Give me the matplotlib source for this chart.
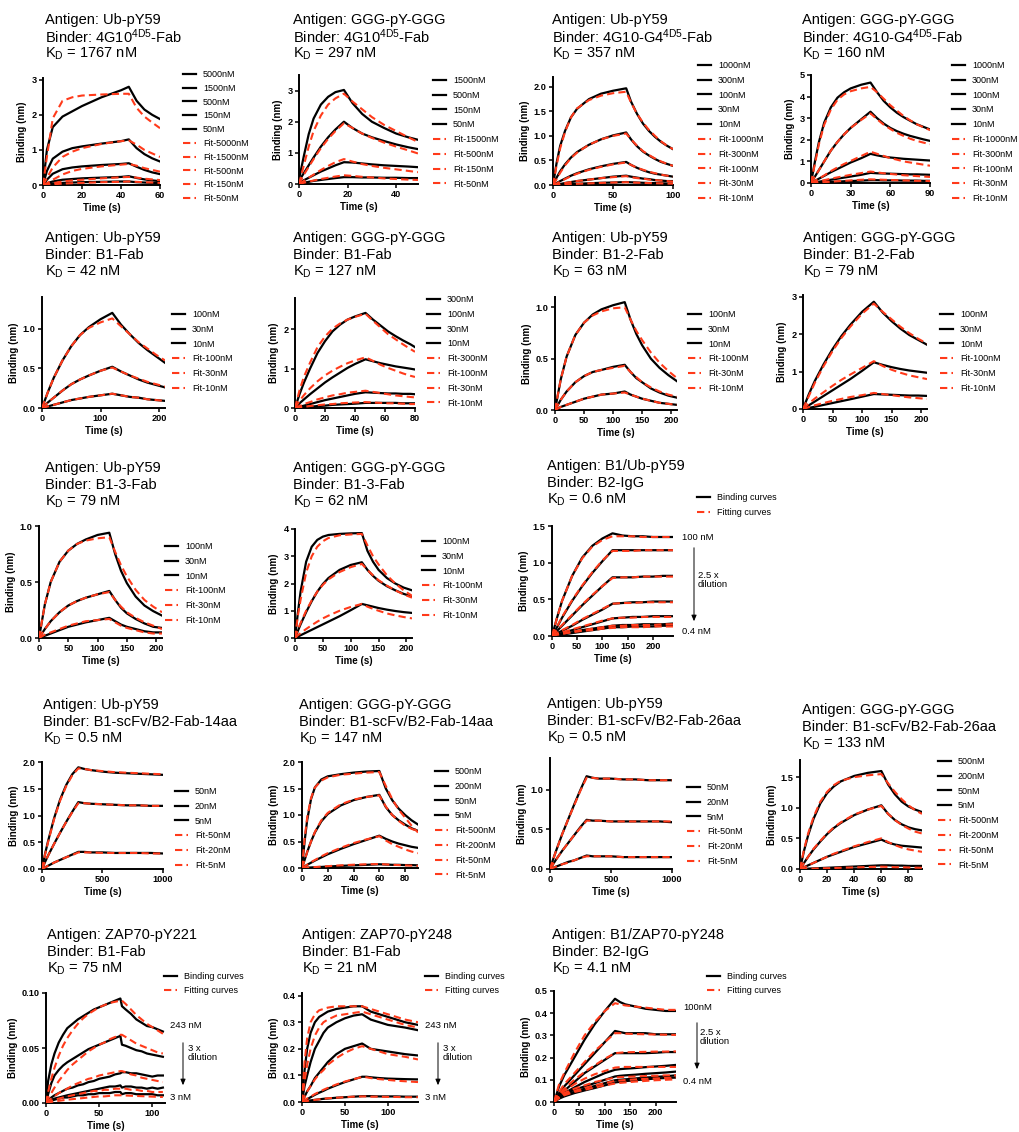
import matplotlib
matplotlib.use('Agg')
import matplotlib.pyplot as plt

plt.rcParams['font.family'] = ['Liberation Sans', 'DejaVu Sans']
plt.rcParams['mathtext.fontset'] = 'custom'
plt.rcParams['mathtext.rm'] = 'Liberation Sans'
plt.rcParams['mathtext.it'] = 'Liberation Sans:italic'
plt.rcParams['mathtext.bf'] = 'Liberation Sans:bold'

W, H = 1020, 1132
RED = '#ff3a1a'

# ---- titles ----
antigens = ['Ub-pY59', 'GGG-pY-GGG', 'Ub-pY59', 'GGG-pY-GGG',
            'Ub-pY59', 'GGG-pY-GGG', 'Ub-pY59', 'GGG-pY-GGG',
            'Ub-pY59', 'GGG-pY-GGG', 'B1/Ub-pY59',
            'Ub-pY59', 'GGG-pY-GGG', 'Ub-pY59', 'GGG-pY-GGG',
            'ZAP70-pY221', 'ZAP70-pY248', 'B1/ZAP70-pY248']
binders = [r'4G10$^{\mathregular{4D5}}$-Fab', r'4G10$^{\mathregular{4D5}}$-Fab',
           r'4G10-G4$^{\mathregular{4D5}}$-Fab', r'4G10-G4$^{\mathregular{4D5}}$-Fab',
           'B1-Fab', 'B1-Fab', 'B1-2-Fab', 'B1-2-Fab',
           'B1-3-Fab', 'B1-3-Fab', 'B2-IgG',
           'B1-scFv/B2-Fab-14aa', 'B1-scFv/B2-Fab-14aa',
           'B1-scFv/B2-Fab-26aa', 'B1-scFv/B2-Fab-26aa',
           'B1-Fab', 'B1-Fab', 'B2-IgG']
kds = ['1767', '297', '357', '160', '42', '127', '63', '79', '79', '62', '0.6',
       '0.5', '147', '0.5', '133', '75', '21', '4.1']

# ---- panel 1 ----
p1_t = [0, 2, 5, 10, 15, 20, 30, 40, 44, 48, 52, 56, 60]
p1_names = ['5000nM', '1500nM', '500nM', '150nM', '50nM']
p1_data = [
    [0, 1.0, 1.65, 1.95, 2.1, 2.25, 2.5, 2.7, 2.8, 2.4, 2.15, 2.0, 1.88],
    [0, 0.4, 0.75, 0.95, 1.05, 1.1, 1.18, 1.25, 1.3, 1.05, 0.88, 0.76, 0.67],
    [0, 0.15, 0.32, 0.45, 0.5, 0.53, 0.57, 0.6, 0.62, 0.52, 0.43, 0.36, 0.31],
    [0, 0.05, 0.1, 0.15, 0.17, 0.19, 0.21, 0.23, 0.25, 0.2, 0.16, 0.13, 0.11],
    [0, 0.02, 0.04, 0.06, 0.07, 0.08, 0.09, 0.1, 0.1, 0.08, 0.07, 0.06, 0.05]]
p1_fit = [
    [0, 0.8, 1.9, 2.4, 2.5, 2.55, 2.58, 2.6, 2.6, 2.2, 1.95, 1.78, 1.62],
    [0, 0.2, 0.5, 0.8, 0.95, 1.05, 1.17, 1.25, 1.27, 1.15, 1.0, 0.9, 0.8],
    [0, 0.05, 0.15, 0.3, 0.4, 0.46, 0.53, 0.58, 0.6, 0.55, 0.48, 0.43, 0.38],
    [0, 0.02, 0.05, 0.1, 0.13, 0.15, 0.19, 0.22, 0.23, 0.21, 0.18, 0.16, 0.14],
    [0, 0.01, 0.02, 0.04, 0.05, 0.06, 0.08, 0.09, 0.1, 0.09, 0.08, 0.07, 0.06]]

# ---- panel 2 ----
p2_t = [0, 2, 4, 6, 9, 12, 15, 18.5, 22, 26, 30, 35, 40, 45, 49]
p2_names = ['1500nM', '500nM', '150nM', '50nM']
p2_data = [
    [0.15, 0.9, 1.6, 2.1, 2.55, 2.8, 2.95, 3.02, 2.6, 2.25, 2.0, 1.8, 1.62, 1.5, 1.42],
    [0.1, 0.35, 0.6, 0.85, 1.2, 1.5, 1.75, 2.0, 1.8, 1.62, 1.5, 1.38, 1.27, 1.18, 1.12],
    [0.05, 0.12, 0.2, 0.28, 0.4, 0.5, 0.6, 0.7, 0.69, 0.66, 0.63, 0.6, 0.58, 0.56, 0.54],
    [0.02, 0.04, 0.07, 0.1, 0.13, 0.16, 0.19, 0.22, 0.22, 0.21, 0.21, 0.2, 0.2, 0.19, 0.19]]
p2_fit = [
    [0, 0.6, 1.2, 1.7, 2.2, 2.55, 2.75, 2.9, 2.65, 2.4, 2.15, 1.9, 1.7, 1.5, 1.35],
    [0, 0.3, 0.55, 0.8, 1.15, 1.45, 1.7, 1.95, 1.8, 1.62, 1.48, 1.33, 1.2, 1.08, 0.98],
    [0, 0.1, 0.2, 0.3, 0.45, 0.58, 0.7, 0.8, 0.72, 0.64, 0.58, 0.52, 0.47, 0.42, 0.38],
    [0, 0.04, 0.08, 0.11, 0.16, 0.2, 0.24, 0.28, 0.26, 0.23, 0.21, 0.18, 0.16, 0.14, 0.13]]

# ---- panel 3 ----
p3_t = [0, 3, 6, 10, 15, 20, 30, 40, 50, 61, 65, 70, 75, 80, 85, 90, 95, 100]
p3_names = ['1000nM', '300nM', '100nM', '30nM', '10nM']
p3_data = [
    [0, 0.45, 0.8, 1.1, 1.38, 1.55, 1.75, 1.86, 1.92, 1.97, 1.7, 1.45, 1.25, 1.1, 0.98, 0.88, 0.8, 0.73],
    [0, 0.15, 0.28, 0.42, 0.56, 0.67, 0.82, 0.93, 1.01, 1.07, 0.93, 0.79, 0.68, 0.6, 0.53, 0.47, 0.43, 0.39],
    [0, 0.04, 0.08, 0.13, 0.19, 0.24, 0.32, 0.38, 0.43, 0.47, 0.41, 0.35, 0.3, 0.26, 0.23, 0.21, 0.19, 0.17],
    [0, 0.01, 0.02, 0.04, 0.06, 0.08, 0.11, 0.14, 0.17, 0.19, 0.17, 0.15, 0.13, 0.12, 0.1, 0.09, 0.08, 0.08],
    [0, 0.005, 0.01, 0.015, 0.02, 0.025, 0.035, 0.045, 0.05, 0.06, 0.055, 0.05, 0.045, 0.04, 0.04, 0.035, 0.03, 0.03]]
p3_fit = [
    [0, 0.4, 0.75, 1.08, 1.38, 1.56, 1.73, 1.82, 1.87, 1.9, 1.68, 1.45, 1.27, 1.12, 1.0, 0.89, 0.8, 0.73],
    [0, 0.12, 0.25, 0.4, 0.55, 0.66, 0.82, 0.93, 1.0, 1.05, 0.93, 0.8, 0.69, 0.61, 0.54, 0.48, 0.43, 0.39],
    [0, 0.03, 0.07, 0.12, 0.18, 0.23, 0.31, 0.37, 0.42, 0.46, 0.41, 0.35, 0.31, 0.27, 0.24, 0.21, 0.19, 0.17],
    [0, 0.01, 0.02, 0.04, 0.06, 0.08, 0.11, 0.14, 0.16, 0.18, 0.16, 0.14, 0.13, 0.11, 0.1, 0.09, 0.08, 0.07],
    [0, 0.004, 0.008, 0.013, 0.018, 0.024, 0.033, 0.042, 0.05, 0.057, 0.052, 0.047, 0.043, 0.039, 0.036, 0.033, 0.03, 0.028]]

# ---- panel 4 ----
p4_t = [0, 3, 6, 10, 15, 20, 25, 30, 38, 45, 50, 55, 60, 65, 70, 75, 80, 85, 90]
p4_names = ['1000nM', '300nM', '100nM', '30nM', '10nM']
p4_data = [
    [0, 1.0, 1.9, 2.8, 3.5, 3.95, 4.2, 4.38, 4.55, 4.65, 4.2, 3.8, 3.5, 3.25, 3.05, 2.88, 2.72, 2.6, 2.48],
    [0, 0.3, 0.6, 1.0, 1.5, 1.9, 2.25, 2.55, 2.95, 3.3, 3.0, 2.75, 2.55, 2.4, 2.28, 2.18, 2.1, 2.02, 1.95],
    [0, 0.1, 0.2, 0.33, 0.5, 0.65, 0.8, 0.95, 1.15, 1.35, 1.28, 1.22, 1.18, 1.15, 1.12, 1.1, 1.08, 1.06, 1.04],
    [0, 0.03, 0.06, 0.1, 0.15, 0.2, 0.25, 0.3, 0.38, 0.47, 0.45, 0.44, 0.43, 0.42, 0.41, 0.4, 0.4, 0.39, 0.38],
    [0, 0.01, 0.02, 0.03, 0.05, 0.06, 0.08, 0.09, 0.11, 0.13, 0.13, 0.12, 0.12, 0.12, 0.11, 0.11, 0.11, 0.1, 0.1]]
p4_fit = [
    [0, 0.9, 1.8, 2.7, 3.4, 3.85, 4.1, 4.25, 4.38, 4.45, 4.2, 3.9, 3.6, 3.35, 3.1, 2.9, 2.72, 2.58, 2.45],
    [0, 0.3, 0.6, 1.0, 1.5, 1.9, 2.25, 2.55, 2.92, 3.22, 2.95, 2.7, 2.5, 2.32, 2.18, 2.05, 1.95, 1.87, 1.8],
    [0, 0.1, 0.2, 0.35, 0.55, 0.72, 0.88, 1.02, 1.25, 1.45, 1.35, 1.25, 1.15, 1.08, 1.0, 0.95, 0.9, 0.85, 0.8],
    [0, 0.04, 0.08, 0.13, 0.2, 0.26, 0.32, 0.38, 0.46, 0.53, 0.49, 0.45, 0.42, 0.39, 0.36, 0.34, 0.32, 0.3, 0.28],
    [0, 0.01, 0.03, 0.04, 0.06, 0.08, 0.1, 0.12, 0.15, 0.17, 0.16, 0.15, 0.14, 0.13, 0.12, 0.11, 0.1, 0.1, 0.09]]

# ---- panel 5 ----
p5_t = [0, 10, 20, 35, 50, 65, 80, 100, 120, 135, 150, 165, 180, 195, 210]
p5_names = ['100nM', '30nM', '10nM']
p5_data = [
    [0, 0.2, 0.38, 0.6, 0.78, 0.92, 1.02, 1.12, 1.2, 1.05, 0.93, 0.82, 0.73, 0.65, 0.57],
    [0, 0.07, 0.13, 0.22, 0.3, 0.36, 0.41, 0.47, 0.52, 0.46, 0.41, 0.36, 0.32, 0.29, 0.26],
    [0, 0.02, 0.04, 0.07, 0.1, 0.12, 0.14, 0.16, 0.18, 0.16, 0.14, 0.13, 0.11, 0.1, 0.09]]
p5_fit = [
    [0, 0.2, 0.38, 0.6, 0.78, 0.92, 1.01, 1.08, 1.13, 1.03, 0.93, 0.83, 0.75, 0.67, 0.6],
    [0, 0.07, 0.13, 0.22, 0.3, 0.36, 0.41, 0.47, 0.51, 0.46, 0.41, 0.37, 0.33, 0.3, 0.27],
    [0, 0.02, 0.04, 0.07, 0.1, 0.12, 0.14, 0.16, 0.18, 0.16, 0.14, 0.13, 0.11, 0.1, 0.09]]

# ---- panel 6 ----
p6_t = [0, 3, 6, 10, 15, 20, 25, 30, 35, 40, 47, 52, 57, 62, 67, 72, 77, 80]
p6_names = ['300nM', '100nM', '30nM', '10nM']
p6_data = [
    [0, 0.35, 0.65, 1.0, 1.4, 1.7, 1.95, 2.12, 2.25, 2.33, 2.42, 2.25, 2.1, 1.95, 1.83, 1.72, 1.62, 1.55],
    [0, 0.12, 0.22, 0.35, 0.5, 0.65, 0.78, 0.9, 1.02, 1.12, 1.24, 1.19, 1.14, 1.1, 1.06, 1.03, 1.0, 0.98],
    [0, 0.03, 0.06, 0.1, 0.15, 0.2, 0.24, 0.28, 0.32, 0.36, 0.4, 0.39, 0.38, 0.37, 0.37, 0.36, 0.36, 0.35],
    [0, 0.01, 0.02, 0.03, 0.05, 0.06, 0.08, 0.09, 0.1, 0.11, 0.13, 0.13, 0.13, 0.13, 0.13, 0.12, 0.12, 0.12]]
p6_fit = [
    [0, 0.45, 0.8, 1.15, 1.55, 1.82, 2.02, 2.15, 2.25, 2.32, 2.4, 2.22, 2.05, 1.88, 1.75, 1.62, 1.5, 1.43],
    [0, 0.18, 0.33, 0.5, 0.68, 0.83, 0.95, 1.05, 1.14, 1.21, 1.29, 1.2, 1.1, 1.02, 0.95, 0.88, 0.82, 0.79],
    [0, 0.05, 0.1, 0.15, 0.22, 0.27, 0.32, 0.35, 0.39, 0.41, 0.44, 0.41, 0.38, 0.35, 0.32, 0.3, 0.28, 0.27],
    [0, 0.02, 0.03, 0.05, 0.07, 0.09, 0.1, 0.12, 0.13, 0.14, 0.15, 0.14, 0.13, 0.12, 0.12, 0.11, 0.1, 0.1]]

# ---- panel 7 ----
p7_t = [0, 10, 20, 35, 50, 65, 80, 100, 120, 130, 140, 150, 165, 180, 195, 210]
p7_names = ['100nM', '30nM', '10nM']
p7_data = [
    [0, 0.3, 0.52, 0.73, 0.85, 0.93, 0.98, 1.02, 1.05, 0.88, 0.74, 0.63, 0.5, 0.41, 0.34, 0.28],
    [0, 0.1, 0.18, 0.27, 0.33, 0.37, 0.39, 0.42, 0.44, 0.37, 0.31, 0.27, 0.21, 0.17, 0.14, 0.12],
    [0, 0.03, 0.05, 0.08, 0.11, 0.13, 0.15, 0.16, 0.18, 0.15, 0.13, 0.11, 0.09, 0.07, 0.06, 0.05]]
p7_fit = [
    [0, 0.3, 0.52, 0.73, 0.85, 0.92, 0.96, 0.99, 1.0, 0.88, 0.77, 0.68, 0.56, 0.46, 0.38, 0.31],
    [0, 0.1, 0.18, 0.27, 0.33, 0.37, 0.39, 0.41, 0.43, 0.37, 0.32, 0.27, 0.22, 0.18, 0.15, 0.13],
    [0, 0.03, 0.05, 0.08, 0.11, 0.13, 0.15, 0.16, 0.17, 0.15, 0.13, 0.11, 0.09, 0.07, 0.06, 0.05]]

# ---- panel 8 ----
p8_t = [0, 10, 20, 35, 50, 65, 80, 100, 120, 135, 150, 165, 180, 195, 210]
p8_names = ['100nM', '30nM', '10nM']
p8_data = [
    [0, 0.4, 0.75, 1.2, 1.6, 1.95, 2.25, 2.6, 2.87, 2.58, 2.35, 2.15, 1.98, 1.85, 1.72],
    [0, 0.1, 0.2, 0.35, 0.5, 0.65, 0.8, 1.02, 1.25, 1.18, 1.12, 1.07, 1.03, 1.0, 0.97],
    [0, 0.03, 0.06, 0.11, 0.16, 0.21, 0.26, 0.33, 0.4, 0.39, 0.38, 0.37, 0.36, 0.36, 0.35]]
p8_fit = [
    [0, 0.35, 0.7, 1.15, 1.55, 1.9, 2.2, 2.55, 2.82, 2.6, 2.4, 2.2, 2.03, 1.88, 1.75],
    [0, 0.15, 0.28, 0.45, 0.62, 0.78, 0.92, 1.1, 1.28, 1.15, 1.05, 0.97, 0.9, 0.85, 0.8],
    [0, 0.05, 0.1, 0.16, 0.22, 0.27, 0.32, 0.37, 0.43, 0.4, 0.37, 0.34, 0.31, 0.29, 0.27]]

# ---- panel 9 ----
p9_t = [0, 10, 20, 35, 50, 65, 80, 100, 120, 130, 140, 150, 165, 180, 195, 210]
p9_names = ['100nM', '30nM', '10nM']
p9_data = [
    [0, 0.3, 0.5, 0.68, 0.78, 0.84, 0.88, 0.92, 0.94, 0.75, 0.6, 0.49, 0.37, 0.29, 0.24, 0.2],
    [0, 0.08, 0.15, 0.23, 0.29, 0.33, 0.36, 0.39, 0.42, 0.34, 0.27, 0.22, 0.17, 0.13, 0.1, 0.09],
    [0, 0.02, 0.04, 0.07, 0.1, 0.12, 0.14, 0.16, 0.18, 0.15, 0.12, 0.1, 0.08, 0.06, 0.05, 0.05]]
p9_fit = [
    [0, 0.3, 0.5, 0.68, 0.78, 0.84, 0.87, 0.89, 0.9, 0.77, 0.65, 0.55, 0.43, 0.34, 0.28, 0.23],
    [0, 0.08, 0.15, 0.23, 0.29, 0.33, 0.36, 0.39, 0.41, 0.34, 0.28, 0.23, 0.18, 0.14, 0.11, 0.08],
    [0, 0.03, 0.05, 0.08, 0.11, 0.13, 0.15, 0.16, 0.17, 0.14, 0.11, 0.09, 0.07, 0.05, 0.04, 0.04]]

# ---- panel 10 ----
p10_t = [0, 5, 10, 20, 30, 40, 50, 60, 80, 100, 120, 130, 140, 150, 165, 180, 195, 210]
p10_names = ['100nM', '30nM', '10nM']
p10_data = [
    [0, 0.9, 1.7, 2.8, 3.35, 3.6, 3.72, 3.78, 3.82, 3.84, 3.85, 3.2, 2.8, 2.5, 2.2, 2.0, 1.85, 1.75],
    [0, 0.25, 0.5, 0.95, 1.35, 1.7, 1.98, 2.2, 2.5, 2.68, 2.78, 2.5, 2.28, 2.1, 1.9, 1.75, 1.62, 1.52],
    [0, 0.05, 0.1, 0.2, 0.3, 0.4, 0.5, 0.6, 0.8, 1.02, 1.25, 1.2, 1.15, 1.1, 1.04, 0.99, 0.95, 0.92]]
p10_fit = [
    [0, 0.8, 1.4, 2.4, 3.0, 3.35, 3.55, 3.67, 3.77, 3.8, 3.82, 3.4, 3.0, 2.7, 2.3, 2.0, 1.75, 1.55],
    [0, 0.3, 0.55, 1.0, 1.38, 1.7, 1.95, 2.15, 2.42, 2.6, 2.72, 2.5, 2.3, 2.12, 1.92, 1.75, 1.6, 1.48],
    [0, 0.1, 0.18, 0.33, 0.47, 0.6, 0.72, 0.82, 1.0, 1.14, 1.25, 1.15, 1.07, 1.0, 0.9, 0.83, 0.77, 0.72]]

# ---- panel 11 ----
p11_t = [0, 10, 20, 40, 60, 80, 100, 120, 140, 160, 180, 200, 220, 240]
p11_data = [
    [0, 0.25, 0.48, 0.82, 1.07, 1.23, 1.33, 1.4, 1.37, 1.36, 1.36, 1.35, 1.35, 1.35],
    [0, 0.12, 0.25, 0.48, 0.68, 0.86, 1.02, 1.17, 1.17, 1.17, 1.17, 1.17, 1.17, 1.17],
    [0, 0.07, 0.14, 0.28, 0.42, 0.55, 0.68, 0.8, 0.8, 0.8, 0.81, 0.81, 0.82, 0.82],
    [0, 0.04, 0.07, 0.14, 0.22, 0.29, 0.36, 0.44, 0.45, 0.46, 0.46, 0.47, 0.47, 0.47],
    [0, 0.02, 0.04, 0.08, 0.12, 0.16, 0.2, 0.24, 0.25, 0.26, 0.26, 0.27, 0.27, 0.27],
    [0, 0.01, 0.03, 0.05, 0.08, 0.1, 0.12, 0.14, 0.15, 0.15, 0.16, 0.16, 0.16, 0.17],
    [0, 0.01, 0.02, 0.04, 0.06, 0.08, 0.1, 0.12, 0.12, 0.13, 0.13, 0.13, 0.14, 0.14]]
p11_fit = [
    [0, 0.25, 0.48, 0.82, 1.06, 1.22, 1.31, 1.36, 1.36, 1.36, 1.35, 1.35, 1.35, 1.35],
    [0, 0.13, 0.26, 0.49, 0.69, 0.87, 1.03, 1.16, 1.16, 1.16, 1.17, 1.17, 1.17, 1.17],
    [0, 0.08, 0.15, 0.29, 0.43, 0.56, 0.68, 0.79, 0.8, 0.8, 0.81, 0.81, 0.81, 0.81],
    [0, 0.04, 0.08, 0.15, 0.23, 0.3, 0.37, 0.44, 0.45, 0.45, 0.46, 0.46, 0.46, 0.46],
    [0, 0.03, 0.05, 0.09, 0.13, 0.17, 0.21, 0.24, 0.25, 0.25, 0.26, 0.26, 0.26, 0.26],
    [0, 0.02, 0.03, 0.06, 0.08, 0.1, 0.12, 0.14, 0.14, 0.15, 0.15, 0.15, 0.16, 0.16],
    [0, 0.02, 0.03, 0.05, 0.07, 0.08, 0.1, 0.11, 0.12, 0.12, 0.12, 0.13, 0.13, 0.13]]

# ---- panel 12 ----
p12_t = [0, 25, 50, 100, 150, 200, 250, 300, 350, 400, 500, 600, 700, 800, 900, 1000]
p12_names = ['50nM', '20nM', '5nM']
p12_data = [
    [0, 0.28, 0.52, 0.95, 1.3, 1.57, 1.77, 1.9, 1.87, 1.85, 1.82, 1.8, 1.79, 1.78, 1.77, 1.76],
    [0, 0.13, 0.25, 0.47, 0.68, 0.88, 1.07, 1.25, 1.23, 1.22, 1.21, 1.2, 1.19, 1.19, 1.18, 1.18],
    [0, 0.03, 0.06, 0.12, 0.17, 0.22, 0.27, 0.32, 0.32, 0.31, 0.31, 0.3, 0.3, 0.3, 0.3, 0.29]]
p12_fit = [
    [0, 0.27, 0.5, 0.93, 1.28, 1.55, 1.75, 1.88, 1.87, 1.85, 1.83, 1.81, 1.8, 1.79, 1.78, 1.77],
    [0, 0.13, 0.25, 0.47, 0.68, 0.88, 1.06, 1.23, 1.23, 1.22, 1.21, 1.2, 1.19, 1.19, 1.18, 1.18],
    [0, 0.03, 0.06, 0.12, 0.17, 0.22, 0.26, 0.31, 0.31, 0.31, 0.3, 0.3, 0.3, 0.3, 0.29, 0.29]]

# ---- panel 13 ----
p13_t = [0, 2, 4, 7, 10, 15, 20, 30, 40, 50, 60, 65, 70, 75, 80, 85, 90]
p13_names = ['500nM', '200nM', '50nM', '5nM']
p13_data = [
    [0, 0.5, 0.9, 1.3, 1.52, 1.67, 1.73, 1.77, 1.8, 1.82, 1.83, 1.5, 1.28, 1.12, 1.0, 0.9, 0.82],
    [0, 0.15, 0.3, 0.5, 0.67, 0.88, 1.02, 1.18, 1.28, 1.34, 1.38, 1.15, 1.0, 0.9, 0.82, 0.75, 0.7],
    [0, 0.03, 0.06, 0.1, 0.14, 0.2, 0.26, 0.36, 0.45, 0.53, 0.61, 0.55, 0.5, 0.46, 0.43, 0.4, 0.38],
    [0, 0.003, 0.006, 0.01, 0.015, 0.02, 0.027, 0.04, 0.05, 0.06, 0.07, 0.065, 0.06, 0.06, 0.055, 0.055, 0.05]]
p13_fit = [
    [0, 0.55, 0.95, 1.32, 1.52, 1.65, 1.71, 1.76, 1.78, 1.8, 1.81, 1.55, 1.3, 1.1, 0.95, 0.8, 0.67],
    [0, 0.15, 0.3, 0.5, 0.68, 0.9, 1.04, 1.2, 1.29, 1.34, 1.37, 1.16, 1.0, 0.89, 0.8, 0.74, 0.69],
    [0, 0.03, 0.06, 0.11, 0.15, 0.22, 0.28, 0.38, 0.47, 0.54, 0.6, 0.52, 0.45, 0.4, 0.35, 0.31, 0.28],
    [0, 0.004, 0.008, 0.013, 0.018, 0.026, 0.035, 0.05, 0.062, 0.07, 0.075, 0.068, 0.06, 0.055, 0.05, 0.045, 0.04]]

# ---- panel 14 ----
p14_t = [0, 25, 50, 100, 150, 200, 250, 300, 350, 400, 500, 600, 700, 800, 900, 1000]
p14_names = ['50nM', '20nM', '5nM']
p14_data = [
    [0, 0.12, 0.23, 0.44, 0.63, 0.82, 1.0, 1.17, 1.15, 1.14, 1.14, 1.13, 1.13, 1.12, 1.12, 1.12],
    [0, 0.06, 0.12, 0.23, 0.33, 0.43, 0.53, 0.62, 0.61, 0.61, 0.6, 0.6, 0.6, 0.6, 0.6, 0.59],
    [0, 0.015, 0.03, 0.06, 0.09, 0.11, 0.14, 0.17, 0.16, 0.16, 0.16, 0.15, 0.15, 0.15, 0.15, 0.15]]
p14_fit = [
    [0, 0.12, 0.23, 0.44, 0.63, 0.81, 0.99, 1.15, 1.15, 1.14, 1.14, 1.13, 1.13, 1.12, 1.12, 1.12],
    [0, 0.06, 0.12, 0.23, 0.33, 0.43, 0.52, 0.61, 0.61, 0.61, 0.6, 0.6, 0.6, 0.6, 0.6, 0.6],
    [0, 0.015, 0.03, 0.06, 0.08, 0.11, 0.14, 0.16, 0.16, 0.16, 0.16, 0.15, 0.15, 0.15, 0.15, 0.15]]

# ---- panel 15 ----
p15_t = [0, 3, 6, 10, 15, 20, 25, 30, 40, 50, 60, 65, 70, 75, 80, 85, 90]
p15_names = ['500nM', '200nM', '50nM', '5nM']
p15_data = [
    [0, 0.3, 0.55, 0.82, 1.07, 1.24, 1.35, 1.43, 1.52, 1.57, 1.6, 1.38, 1.22, 1.1, 1.02, 0.97, 0.93],
    [0, 0.1, 0.2, 0.32, 0.45, 0.57, 0.67, 0.75, 0.88, 0.97, 1.04, 0.9, 0.8, 0.73, 0.68, 0.65, 0.63],
    [0, 0.03, 0.06, 0.1, 0.15, 0.2, 0.24, 0.28, 0.36, 0.42, 0.48, 0.43, 0.4, 0.38, 0.37, 0.36, 0.35],
    [0, 0.003, 0.006, 0.01, 0.015, 0.02, 0.025, 0.03, 0.04, 0.05, 0.06, 0.06, 0.055, 0.055, 0.05, 0.05, 0.05]]
p15_fit = [
    [0, 0.32, 0.58, 0.85, 1.1, 1.26, 1.37, 1.44, 1.5, 1.53, 1.55, 1.4, 1.26, 1.14, 1.04, 0.96, 0.9],
    [0, 0.1, 0.2, 0.33, 0.46, 0.58, 0.68, 0.76, 0.89, 0.97, 1.03, 0.9, 0.8, 0.72, 0.66, 0.61, 0.58],
    [0, 0.03, 0.06, 0.1, 0.15, 0.2, 0.25, 0.29, 0.37, 0.44, 0.5, 0.44, 0.39, 0.35, 0.32, 0.3, 0.28],
    [0, 0.002, 0.004, 0.006, 0.01, 0.013, 0.016, 0.02, 0.026, 0.032, 0.038, 0.035, 0.03, 0.028, 0.025, 0.022, 0.02]]

# ---- panel 16 ----
p16_t = [0, 2, 5, 8, 12, 16, 20, 25, 30, 35, 40, 45, 50, 55, 60, 65, 70, 71.5,
         75, 80, 85, 90, 95, 100, 105, 110]
p16_data = [
    [0, 0.02, 0.035, 0.045, 0.055, 0.062, 0.068, 0.072, 0.076, 0.079, 0.082, 0.085, 0.087,
     0.089, 0.091, 0.093, 0.095, 0.088, 0.085, 0.081, 0.076, 0.073, 0.07, 0.069, 0.067, 0.065],
    [0, 0.008, 0.018, 0.025, 0.03, 0.034, 0.037, 0.04, 0.043, 0.046, 0.049, 0.051, 0.053,
     0.055, 0.057, 0.059, 0.061, 0.053, 0.052, 0.05, 0.048, 0.047, 0.045, 0.044, 0.043, 0.042],
    [0, 0.002, 0.005, 0.007, 0.009, 0.011, 0.013, 0.014, 0.016, 0.017, 0.019, 0.02, 0.022,
     0.023, 0.024, 0.026, 0.027, 0.028, 0.028, 0.027, 0.027, 0.026, 0.025, 0.024, 0.025, 0.025],
    [0, 0.001, 0.003, 0.004, 0.005, 0.006, 0.007, 0.008, 0.009, 0.01, 0.011, 0.012, 0.013,
     0.014, 0.015, 0.015, 0.016, 0.014, 0.015, 0.015, 0.014, 0.014, 0.013, 0.014, 0.013, 0.014],
    [0, 0.001, 0.002, 0.003, 0.004, 0.005, 0.005, 0.006, 0.007, 0.007, 0.008, 0.008, 0.009,
     0.009, 0.009, 0.01, 0.01, 0.008, 0.009, 0.009, 0.008, 0.008, 0.008, 0.008, 0.007, 0.007]]
p16_fit = [
    [0, 0.01, 0.022, 0.032, 0.043, 0.052, 0.059, 0.066, 0.072, 0.077, 0.081, 0.084, 0.087,
     0.089, 0.091, 0.092, 0.093, 0.093, 0.09, 0.085, 0.08, 0.076, 0.072, 0.069, 0.066, 0.063],
    [0, 0.004, 0.009, 0.014, 0.02, 0.025, 0.03, 0.035, 0.039, 0.043, 0.047, 0.05, 0.053,
     0.055, 0.058, 0.06, 0.062, 0.062, 0.06, 0.057, 0.054, 0.052, 0.05, 0.048, 0.046, 0.045],
    [0, 0.002, 0.004, 0.006, 0.009, 0.011, 0.013, 0.016, 0.018, 0.02, 0.022, 0.023, 0.025,
     0.026, 0.027, 0.028, 0.029, 0.029, 0.028, 0.026, 0.025, 0.023, 0.022, 0.021, 0.02, 0.019],
    [0, 0.001, 0.002, 0.003, 0.004, 0.005, 0.006, 0.007, 0.008, 0.009, 0.01, 0.011, 0.011,
     0.012, 0.012, 0.013, 0.013, 0.013, 0.013, 0.012, 0.012, 0.011, 0.011, 0.01, 0.01, 0.01],
    [0, 0.0005, 0.001, 0.0015, 0.002, 0.0025, 0.003, 0.0035, 0.004, 0.0045, 0.005, 0.0055, 0.006,
     0.006, 0.0065, 0.007, 0.007, 0.007, 0.0068, 0.0066, 0.0064, 0.0062, 0.006, 0.0058, 0.0056, 0.0055]]

# ---- panel 17 ----
p17_t = [0, 3, 6, 10, 15, 20, 25, 30, 40, 50, 60, 70, 75, 80, 90, 100, 110, 120, 135]
p17_data = [
    [0, 0.12, 0.2, 0.26, 0.3, 0.32, 0.33, 0.34, 0.35, 0.355, 0.36, 0.36, 0.35, 0.34, 0.33, 0.32, 0.31, 0.3, 0.29],
    [0, 0.06, 0.1, 0.15, 0.2, 0.23, 0.26, 0.28, 0.3, 0.315, 0.325, 0.33, 0.32, 0.31, 0.3, 0.29, 0.285, 0.28, 0.27],
    [0, 0.02, 0.04, 0.06, 0.09, 0.11, 0.13, 0.15, 0.18, 0.2, 0.21, 0.22, 0.21, 0.2, 0.195, 0.19, 0.185, 0.18, 0.175],
    [0, 0.005, 0.01, 0.018, 0.027, 0.035, 0.042, 0.05, 0.063, 0.075, 0.085, 0.095, 0.095, 0.093, 0.09, 0.088, 0.087, 0.086, 0.085],
    [0, 0.002, 0.004, 0.006, 0.008, 0.01, 0.012, 0.013, 0.016, 0.018, 0.02, 0.022, 0.022, 0.022, 0.021, 0.021, 0.021, 0.02, 0.02]]
p17_fit = [
    [0, 0.15, 0.24, 0.3, 0.33, 0.345, 0.35, 0.355, 0.36, 0.36, 0.36, 0.36, 0.355, 0.35, 0.34, 0.33, 0.32, 0.31, 0.3],
    [0, 0.08, 0.14, 0.2, 0.25, 0.28, 0.3, 0.31, 0.325, 0.33, 0.335, 0.34, 0.335, 0.33, 0.32, 0.31, 0.3, 0.29, 0.28],
    [0, 0.02, 0.04, 0.06, 0.085, 0.105, 0.12, 0.14, 0.165, 0.185, 0.2, 0.21, 0.205, 0.2, 0.19, 0.18, 0.175, 0.17, 0.16],
    [0, 0.007, 0.013, 0.02, 0.03, 0.038, 0.046, 0.053, 0.066, 0.077, 0.086, 0.094, 0.093, 0.09, 0.086, 0.083, 0.08, 0.078, 0.075],
    [0, 0.002, 0.004, 0.006, 0.008, 0.01, 0.012, 0.014, 0.016, 0.018, 0.02, 0.021, 0.021, 0.02, 0.02, 0.019, 0.019, 0.018, 0.018]]

# ---- panel 18 ----
p18_t = [0, 10, 20, 40, 60, 80, 100, 120, 130, 140, 160, 180, 200, 220, 240]
p18_data = [
    [0, 0.07, 0.12, 0.2, 0.28, 0.35, 0.41, 0.465, 0.45, 0.44, 0.43, 0.42, 0.415, 0.41, 0.41],
    [0, 0.04, 0.07, 0.12, 0.17, 0.22, 0.27, 0.32, 0.315, 0.31, 0.31, 0.31, 0.305, 0.305, 0.305],
    [0, 0.03, 0.05, 0.09, 0.13, 0.16, 0.19, 0.22, 0.22, 0.22, 0.22, 0.22, 0.222, 0.225, 0.225],
    [0, 0.025, 0.04, 0.065, 0.09, 0.11, 0.13, 0.145, 0.148, 0.15, 0.153, 0.157, 0.16, 0.163, 0.167],
    [0, 0.02, 0.035, 0.055, 0.07, 0.085, 0.1, 0.115, 0.118, 0.12, 0.123, 0.127, 0.13, 0.133, 0.137],
    [0, 0.018, 0.03, 0.045, 0.06, 0.072, 0.085, 0.098, 0.1, 0.102, 0.106, 0.11, 0.113, 0.116, 0.12],
    [0, 0.015, 0.025, 0.04, 0.052, 0.063, 0.075, 0.088, 0.091, 0.094, 0.098, 0.102, 0.106, 0.108, 0.11]]
p18_fit = [
    [0, 0.08, 0.13, 0.22, 0.3, 0.36, 0.41, 0.445, 0.44, 0.435, 0.43, 0.425, 0.42, 0.415, 0.415],
    [0, 0.045, 0.08, 0.13, 0.18, 0.23, 0.27, 0.31, 0.31, 0.308, 0.306, 0.305, 0.304, 0.303, 0.302],
    [0, 0.035, 0.06, 0.1, 0.135, 0.165, 0.195, 0.22, 0.222, 0.224, 0.225, 0.226, 0.227, 0.227, 0.228],
    [0, 0.03, 0.05, 0.08, 0.105, 0.125, 0.14, 0.155, 0.157, 0.158, 0.158, 0.158, 0.158, 0.158, 0.158],
    [0, 0.025, 0.04, 0.06, 0.075, 0.09, 0.1, 0.11, 0.112, 0.113, 0.115, 0.117, 0.118, 0.12, 0.12],
    [0, 0.02, 0.035, 0.05, 0.063, 0.075, 0.085, 0.095, 0.097, 0.099, 0.102, 0.104, 0.106, 0.108, 0.11],
    [0, 0.018, 0.03, 0.045, 0.055, 0.065, 0.075, 0.083, 0.086, 0.088, 0.092, 0.095, 0.098, 0.1, 0.102]]

# dilution annotations (top label, bottom label, middle text)
ann_top = ['100 nM', '243 nM', '243 nM', '100nM']
ann_bot = ['0.4 nM', '3 nM', '3 nM', '0.4 nM']
ann_mid = ['2.5 x\ndilution', '3 x\ndilution', '3 x\ndilution', '2.5 x\ndilution']

# layout: (left, right, top, bottom) of each plot area in pixels
boxes = [(43, 160, 78, 185), (299, 418, 75, 184), (553, 673, 77, 185), (811, 930, 75, 183),
         (42, 165, 297, 408), (295, 415, 298, 408), (555, 677, 297, 410), (803, 927, 295, 409),
         (39, 162, 526, 638), (295, 412, 529, 638), (552, 673, 526, 636),
         (42, 163, 762, 869), (302, 418, 762, 868), (550, 672, 758, 869), (800, 922, 760, 869),
         (46, 165, 993, 1103), (302, 418, 993, 1102), (554, 676, 991, 1102)]
title_pos = [(45, 20), (293, 20), (552, 20), (802, 20),
             (45, 238), (293, 238), (552, 238), (803, 238),
             (45, 468), (293, 468), (547, 466),
             (43, 705), (299, 705), (547, 704), (802, 710),
             (47, 935), (302, 935), (552, 935)]
legend_pos = [(183, 75, 14), (433, 81, 15), (698, 66, 15), (952, 66, 15),
              (172, 315, 15), (427, 300, 15), (688, 315, 15), (940, 315, 15),
              (165, 547, 15), (422, 542, 15), (697, 498, 15),
              (175, 792, 15), (435, 772, 15), (687, 788, 15), (938, 762, 15),
              (164, 977, 14), (425, 977, 14), (707, 977, 14)]
ann_pos = [(682, 537, 632, 694, 545, 624, 698, 580),
           (170, 1025, 1098, 183, 1040, 1088, 188, 1053),
           (425, 1025, 1098, 438, 1040, 1088, 443, 1053),
           (683, 1008, 1082, 697, 1020, 1072, 700, 1037)]

panels = [
    (p1_t, p1_data, p1_fit, p1_names, (0, 60), (0, 3.05), [0, 20, 40, 60], [0, 1, 2, 3], '{:.0f}'),
    (p2_t, p2_data, p2_fit, p2_names, (0, 49), (0, 3.5), [0, 20, 40], [0, 1, 2, 3], '{:.0f}'),
    (p3_t, p3_data, p3_fit, p3_names, (0, 100), (0, 2.2), [0, 50, 100], [0, 0.5, 1, 1.5, 2], '{:.1f}'),
    (p4_t, p4_data, p4_fit, p4_names, (0, 90), (0, 5), [0, 30, 60, 90], [0, 1, 2, 3, 4, 5], '{:.0f}'),
    (p5_t, p5_data, p5_fit, p5_names, (0, 210), (0, 1.4), [0, 100, 200], [0, 0.5, 1], '{:.1f}'),
    (p6_t, p6_data, p6_fit, p6_names, (0, 80), (0, 2.8), [0, 20, 40, 60, 80], [0, 1, 2], '{:.0f}'),
    (p7_t, p7_data, p7_fit, p7_names, (0, 210), (0, 1.1), [0, 50, 100, 150, 200], [0, 0.5, 1], '{:.1f}'),
    (p8_t, p8_data, p8_fit, p8_names, (0, 210), (0, 3.05), [0, 50, 100, 150, 200], [0, 1, 2, 3], '{:.0f}'),
    (p9_t, p9_data, p9_fit, p9_names, (0, 210), (0, 1.0), [0, 50, 100, 150, 200], [0, 0.5, 1], '{:.1f}'),
    (p10_t, p10_data, p10_fit, p10_names, (0, 210), (0, 4), [0, 50, 100, 150, 200], [0, 1, 2, 3, 4], '{:.0f}'),
    (p11_t, p11_data, p11_fit, None, (0, 240), (0, 1.5), [0, 50, 100, 150, 200], [0, 0.5, 1, 1.5], '{:.1f}'),
    (p12_t, p12_data, p12_fit, p12_names, (0, 1000), (0, 2.0), [0, 500, 1000], [0, 0.5, 1, 1.5, 2], '{:.1f}'),
    (p13_t, p13_data, p13_fit, p13_names, (0, 90), (0, 2.0), [0, 20, 40, 60, 80], [0, 0.5, 1, 1.5, 2], '{:.1f}'),
    (p14_t, p14_data, p14_fit, p14_names, (0, 1000), (0, 1.4), [0, 500, 1000], [0, 0.5, 1], '{:.1f}'),
    (p15_t, p15_data, p15_fit, p15_names, (0, 90), (0, 1.78), [0, 20, 40, 60, 80], [0, 0.5, 1, 1.5], '{:.1f}'),
    (p16_t, p16_data, p16_fit, None, (0, 112), (0, 0.1), [0, 50, 100], [0, 0.05, 0.1], '{:.2f}'),
    (p17_t, p17_data, p17_fit, None, (0, 135), (0, 0.41), [0, 50, 100], [0, 0.1, 0.2, 0.3, 0.4], '{:.1f}'),
    (p18_t, p18_data, p18_fit, None, (0, 240), (0, 0.5), [0, 50, 100, 150, 200], [0, 0.1, 0.2, 0.3, 0.4, 0.5], '{:.1f}'),
]
summary_idx = [10, 15, 16, 17]


def fx(x):
    return x / W


def fy(y):
    return 1 - y / H


fig = plt.figure(figsize=(W / 100, H / 100), dpi=100)
FS = 6.5

for i, (t, data, fit, names, xl, yl, xt, yt, yf) in enumerate(panels):
    l, r, tp, b = boxes[i]
    ax = fig.add_axes([fx(l), fy(b), (r - l) / W, (b - tp) / H])
    for k, d in enumerate(data):
        lab = names[k] if names else ('Binding curves' if k == 0 else None)
        ax.plot(t, d, color='black', lw=1.6, label=lab, solid_joinstyle='round', zorder=2)
    for k, d in enumerate(fit):
        lab = 'Fit-' + names[k] if names else ('Fitting curves' if k == 0 else None)
        ax.plot(t, d, color=RED, lw=1.5, dashes=(3.5, 2.0), label=lab, zorder=3)
    ax.set_xlim(*xl)
    ax.set_ylim(*yl)
    ax.set_xticks(xt)
    ax.set_xticklabels([str(v) for v in xt])
    ax.set_yticks(yt)
    ax.set_yticklabels([yf.format(v) for v in yt])
    for s in ['top', 'right']:
        ax.spines[s].set_visible(False)
    for s in ['left', 'bottom']:
        ax.spines[s].set_linewidth(1.4)
    ax.tick_params(length=3, width=1.1, pad=1.5, labelsize=6.6)
    for lb in ax.get_xticklabels() + ax.get_yticklabels():
        lb.set_fontweight('bold')
    ax.set_xlabel('Time (s)', fontsize=7, fontweight='bold', labelpad=2)
    ax.set_ylabel('Binding (nm)', fontsize=7, fontweight='bold', labelpad=3)

    lx, ly, step = legend_pos[i]
    fs_px = FS * 100 / 72
    ax.legend(loc='upper left', bbox_to_anchor=(fx(lx), fy(ly - 0.55 * fs_px)),
              bbox_transform=fig.transFigure, frameon=False, fontsize=FS,
              handlelength=1.45, handletextpad=0.75, borderpad=0, borderaxespad=0,
              labelspacing=max(step - 1.02 * fs_px, 0) / fs_px)

    tx, ty = title_pos[i]
    fig.text(fx(tx), fy(ty), 'Antigen: ' + antigens[i], fontsize=10.5, va='center', ha='left')
    fig.text(fx(tx), fy(ty + 17), 'Binder: ' + binders[i], fontsize=10.5, va='center', ha='left')
    fig.text(fx(tx), fy(ty + 34), r'K$_{\mathregular{D}}$ = ' + kds[i] + ' nM',
             fontsize=10.5, va='center', ha='left')

    if i in summary_idx:
        j = summary_idx.index(i)
        ax_, ytop, ybot, arx, ary0, ary1, mx, my = ann_pos[j]
        fig.text(fx(ax_), fy(ytop), ann_top[j], fontsize=6.8, va='center', ha='left')
        fig.text(fx(ax_), fy(ybot), ann_bot[j], fontsize=6.8, va='center', ha='left')
        fig.text(fx(mx), fy(my), ann_mid[j], fontsize=6.8, va='center', ha='left',
                 linespacing=1.0)
        ax.annotate('', xy=(fx(arx), fy(ary1)), xytext=(fx(arx), fy(ary0)),
                    xycoords='figure fraction', textcoords='figure fraction',
                    arrowprops=dict(arrowstyle='-|>,head_length=0.35,head_width=0.15',
                                    lw=0.7, color='black'))

fig.savefig('out.png', dpi=100)
